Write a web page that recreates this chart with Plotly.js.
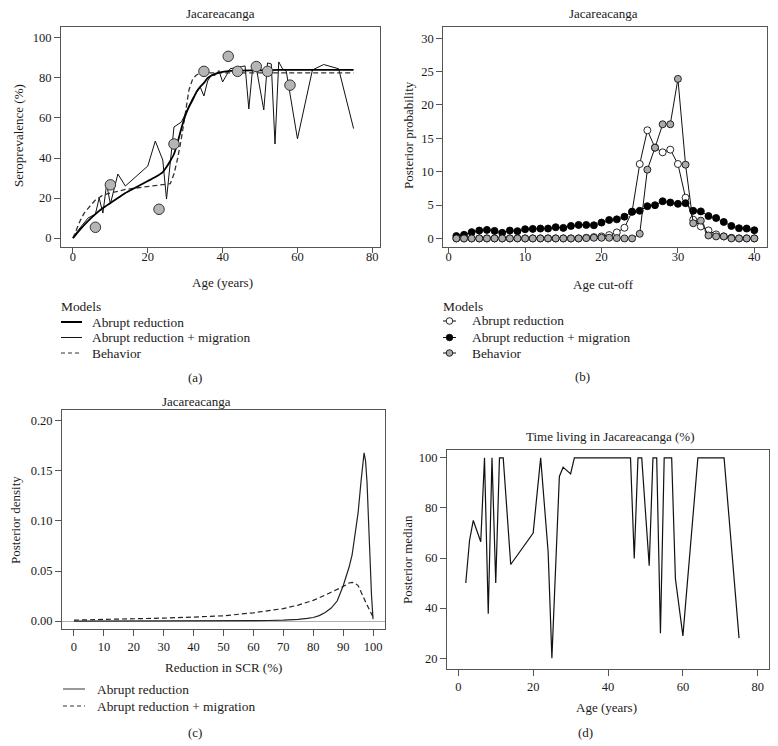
<!DOCTYPE html>
<html>
<head>
<meta charset="utf-8">
<script src="https://cdn.plot.ly/plotly-3.0.1.min.js"></script>
<style>html,body{margin:0;padding:0;background:#fff;}#chart{width:778px;height:746px;}</style>
</head>
<body>
<div id="chart"></div>
<script>
// ---------- Panel (a): seroprevalence by age ----------
const ageAbrupt = [0,2,4,6,8,10,12,14,16,18,20,22,24,25,26,27,28,29,30,31,32,33,34,35,36,38,40,42,45,50,55,60,65,70,75];
const seroAbrupt = [0,4.5,8.5,12,15,17.5,20,22.5,24.5,26.5,28.5,30.5,33,35.5,38.5,42,48,55,61,65.5,69,73,75.5,77.5,80,82,83,83.5,83.7,83.8,84,84,84,84,84];
const ageMigr = [0,1,4,6,7,8,9,10,12,14,20,22,24,25,27,29,30,32,34,35,36,37,38,39,40,42,45,46,47,48,49,51,52,53,54,55,56,57,60,64,67,71,75];
const seroMigr = [0,3,10,12,20,12.5,27,17,32,26,36,48.5,39,19.5,55.5,58,62,70,75.5,71,78.5,81.5,81.3,83.7,78,84.6,85.7,86,64.5,84.6,85,64,87.5,87,47,88,84.6,83.4,49.6,84,86.7,84.6,54.7];
const ageBehav = [0,1,2,3,4,5,6,8,10,12,14,16,18,20,22,24,26,27,28,29,30,31,32,33,34,36,40,50,60,75];
const seroBehav = [0,5,9,12.5,15,17,19,21.5,22.5,23.5,24.3,24.8,25.3,25.8,26.2,26.6,27.2,32,40,50,63,74,79.5,81.5,82.3,82.5,82.5,82.5,82.5,82.5];
const ageObs = [6,10,23,27,35,41.5,44,49,52,58];
const seroObs = [5.4,26.6,14.4,47,83.3,90.8,83.3,85.7,83.3,76.4];

// ---------- Panel (b): posterior probability of age cut-off ----------
const cutoff = [1,2,3,4,5,6,7,8,9,10,11,12,13,14,15,16,17,18,19,20,21,22,23,24,25,26,27,28,29,30,31,32,33,34,35,36,37,38,39,40];
const probAbrupt = [0,0,0,0,0,0,0,0,0,0,0,0,0,0,0,0,0,0.1,0.2,0.3,0.5,0.9,1.6,4.0,11.15,16.2,13.6,12.9,13.3,11.15,6.1,2.8,1.8,1.2,0.6,0.3,0.1,0,0,0];
const probMigr = [0.35,0.54,0.94,1.18,1.28,1.13,0.84,1.18,1.09,1.38,1.43,1.48,1.48,1.68,1.58,1.87,2.02,2.02,1.97,2.37,2.76,2.86,3.26,4.0,4.14,4.83,4.98,5.57,5.38,5.18,5.28,4.14,4.05,3.35,3.06,2.47,1.87,1.53,1.48,1.23];
const probBehav = [0,0,0,0,0,0,0,0,0,0,0,0,0,0,0,0,0,0.05,0.1,0.1,0.1,0.05,0,0,0.7,10.3,13.6,17.1,17.1,23.9,11.05,2.27,2.66,0.44,0.3,0.3,0,0,0,0];

// ---------- Panel (c): posterior density of reduction in SCR ----------
const scrAbrupt = [0,10,20,30,40,50,60,65,70,72,75,78,80,82,84,86,88,90,91,92,93,94,95,96,96.5,97,97.5,98,98.5,99,99.5,100];
const densAbrupt = [0,0,0,0,0,0.0002,0.0004,0.0006,0.0009,0.0011,0.0017,0.0027,0.0036,0.0055,0.0085,0.013,0.02,0.035,0.044,0.054,0.066,0.085,0.108,0.14,0.158,0.168,0.16,0.138,0.1,0.06,0.025,0.002];
const scrMigr = [0,10,20,30,40,50,60,70,75,80,84,87,90,92,93,94,95,96,97,98,99,100];
const densMigr = [0.001,0.0015,0.002,0.003,0.004,0.0053,0.0083,0.0125,0.016,0.0207,0.026,0.030,0.0345,0.038,0.0387,0.0378,0.0355,0.029,0.022,0.016,0.01,0.004];

// ---------- Panel (d): time living in Jacareacanga ----------
const ageD = [2,3,4,6,7,8,9,10,11,12,14,20,22,24,25,27,28,30,31,46,47,48,49,51,52,53,54,55,57,58,60,64,71,75];
const timeD = [50,67,75,66.5,100,37.7,100,50,100,100,57.4,70,100,62.4,20,92.6,96.3,93.6,100,100,59.8,100,100,56.9,100,100,29.9,100,100,51.7,28.9,100,100,28];

// tick labels
const ticksA_x = [0,20,40,60,80], ticksA_y = [0,20,40,60,80,100];
const ticksB_x = [0,10,20,30,40], ticksB_y = [0,5,10,15,20,25,30];
const ticksC_x = [0,10,20,30,40,50,60,70,80,90,100], ticksC_y = [0,0.05,0.10,0.15,0.20];
const ticksD_x = [0,20,40,60,80], ticksD_y = [20,40,60,80,100];

const W = 778, H = 746;
const px = v => v / W, py = v => 1 - v / H;
const FONT = "Liberation Serif";
const TXT = '#1a1a1a';

const traces = [
  {x: ageMigr, y: seroMigr, xaxis:'x', yaxis:'y', mode:'lines', line:{color:'#111', width:1}, name:'Abrupt reduction + migration'},
  {x: ageBehav, y: seroBehav, xaxis:'x', yaxis:'y', mode:'lines', line:{color:'#333', width:1.3, dash:'5px,3px'}, name:'Behavior'},
  {x: ageAbrupt, y: seroAbrupt, xaxis:'x', yaxis:'y', mode:'lines', line:{color:'#000', width:1.8, shape:'spline', smoothing:0.6}, name:'Abrupt reduction'},
  {x: ageObs, y: seroObs, xaxis:'x', yaxis:'y', mode:'markers', marker:{size:10.5, color:'#b5b5b5', line:{color:'#333', width:1}}, name:'Observed'},

  {x: cutoff, y: probAbrupt, xaxis:'x2', yaxis:'y2', mode:'lines+markers', line:{color:'#111', width:1}, marker:{size:7, color:'#fff', line:{color:'#111', width:0.9}}, name:'Abrupt reduction'},
  {x: cutoff, y: probMigr, xaxis:'x2', yaxis:'y2', mode:'lines+markers', line:{color:'#111', width:1}, marker:{size:7, color:'#000', line:{color:'#000', width:0.9}}, name:'Abrupt reduction + migration'},
  {x: cutoff, y: probBehav, xaxis:'x2', yaxis:'y2', mode:'lines+markers', line:{color:'#111', width:1}, marker:{size:7, color:'#aaa', line:{color:'#111', width:0.9}}, name:'Behavior'},

  {x: scrMigr, y: densMigr, xaxis:'x3', yaxis:'y3', mode:'lines', line:{color:'#222', width:1.2, dash:'5px,3px'}, name:'Abrupt reduction + migration'},
  {x: scrAbrupt, y: densAbrupt, xaxis:'x3', yaxis:'y3', mode:'lines', line:{color:'#222', width:1.2}, name:'Abrupt reduction'},

  {x: ageD, y: timeD, xaxis:'x4', yaxis:'y4', mode:'lines', line:{color:'#111', width:1.2}, name:'Posterior median'}
];

function ax(extra) {
  return Object.assign({
    showline:true, mirror:true, linecolor:'#555', linewidth:1,
    ticks:'outside', ticklen:6, tickcolor:'#555', tickwidth:1,
    showgrid:false, zeroline:false, tickmode:'array',
    tickfont:{family:FONT, size:12.5, color:TXT}, fixedrange:true
  }, extra);
}
const yTopRow = [py(246.7), py(26.7)];

const layout = {
  width:W, height:H, margin:{l:0,r:0,t:0,b:0}, showlegend:false,
  paper_bgcolor:'#fff', plot_bgcolor:'#fff',
  font:{family:FONT, size:13, color:TXT},
  xaxis: ax({domain:[px(61), px(380)], range:[-3.2, 82.06], anchor:'y', tickvals:ticksA_x, ticklen:5, ticklabelstandoff:-7}),
  yaxis: ax({domain:yTopRow, range:[-4.3, 105.6], anchor:'x', tickvals:ticksA_y}),
  xaxis2: ax({domain:[px(443.3), px(766.7)], range:[-0.71, 41.62], anchor:'y2', tickvals:ticksB_x, ticklen:5, ticklabelstandoff:-7}),
  yaxis2: ax({domain:yTopRow, range:[-1.24, 31.72], anchor:'x2', tickvals:ticksB_y}),
  xaxis3: ax({domain:[px(62), px(385)], range:[-4.01, 104], anchor:'y3', tickvals:ticksC_x}),
  yaxis3: ax({domain:[py(629), py(410)], range:[-0.0079, 0.2108], anchor:'x3', tickvals:ticksC_y, tickformat:'.2f', zeroline:true, zerolinecolor:'#b0b0b0', zerolinewidth:1}),
  xaxis4: ax({domain:[px(447), px(769)], range:[-3.02, 83.0], anchor:'y4', tickvals:ticksD_x}),
  yaxis4: ax({domain:[py(669), py(450)], range:[15.66, 103.15], anchor:'x4', tickvals:ticksD_y}),
  annotations: [],
  shapes: []
};

function ann(text, x, y, o) {
  layout.annotations.push(Object.assign({
    text:text, xref:'paper', yref:'paper', x:px(x), y:py(y), showarrow:false,
    xanchor:'center', yanchor:'middle', font:{family:FONT, size:13, color:TXT}
  }, o || {}));
}
function legLine(x0, x1, y, line) {
  layout.shapes.push({type:'line', xref:'paper', yref:'paper', x0:px(x0), x1:px(x1), y0:py(y), y1:py(y), line:line});
}
function legDot(x, y, fill) {
  layout.shapes.push({type:'circle', xref:'paper', yref:'paper', xsizemode:'pixel', ysizemode:'pixel',
    xanchor:px(x), yanchor:py(y), x0:-3.3, x1:3.3, y0:-3.3, y1:3.3, fillcolor:fill, line:{color:'#111', width:0.9}});
}
const legFont = {family:FONT, size:13.4, color:TXT};

// Panel (a) texts
ann('Jacareacanga', 220.5, 13);
ann('Seroprevalence (%)', 18, 136, {textangle:-90});
ann('Age (years)', 222, 283);
ann('Models', 59, 306, {xanchor:'left', font:legFont});
legLine(61, 82, 322, {color:'#000', width:2});
legLine(61, 82, 337.5, {color:'#111', width:1});
legLine(61, 82, 353, {color:'#333', width:1.2, dash:'4px,3px'});
ann('Abrupt reduction', 90, 322, {xanchor:'left', font:legFont});
ann('Abrupt reduction + migration', 90, 337.5, {xanchor:'left', font:legFont});
ann('Behavior', 90, 353, {xanchor:'left', font:legFont});
ann('(a)', 195, 377);

// Panel (b) texts
ann('Jacareacanga', 603, 13);
ann('Posterior probability', 408, 135, {textangle:-90});
ann('Age cut-off', 603, 285);
ann('Models', 441, 306, {xanchor:'left', font:legFont});
[['#fff',321],['#000',337.5],['#aaa',353]].forEach(([c,y]) => { legLine(443, 456, y, {color:'#111', width:1}); legDot(449.5, y, c); });
ann('Abrupt reduction', 470, 321, {xanchor:'left', font:legFont});
ann('Abrupt reduction + migration', 470, 337.5, {xanchor:'left', font:legFont});
ann('Behavior', 470, 353, {xanchor:'left', font:legFont});
ann('(b)', 582, 376);

// Panel (c) texts
ann('Jacareacanga', 196, 401);
ann('Posterior density', 15, 520, {textangle:-90});
ann('Reduction in SCR (%)', 223, 667);
legLine(63, 85, 689, {color:'#555', width:1.2});
legLine(63, 85, 706, {color:'#333', width:1.2, dash:'4px,3px'});
ann('Abrupt reduction', 95, 689, {xanchor:'left', font:legFont});
ann('Abrupt reduction + migration', 95, 706, {xanchor:'left', font:legFont});
ann('(c)', 195, 732);

// Panel (d) texts
ann('Time living in Jacareacanga (%)', 610, 437);
ann('Posterior median', 407, 560, {textangle:-90});
ann('Age (years)', 606, 707);
ann('(d)', 585, 732);

Plotly.newPlot('chart', traces, layout, {staticPlot:true, displayModeBar:false});
</script>
</body>
</html>
